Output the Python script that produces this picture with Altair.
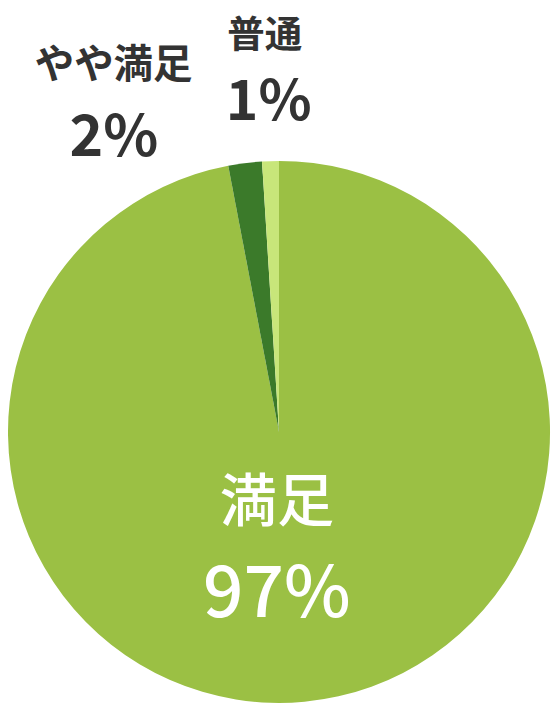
import math
import altair as alt
import pandas as pd

categories = ["満足", "やや満足", "普通"]
values = [97, 2, 1]
colors = ["#9BC044", "#3B7A2A", "#C8E67A"]

df = pd.DataFrame({"category": categories, "value": values, "rank": list(range(len(categories)))})
total = sum(values)

FONT = "Noto Sans CJK JP"
CX, CY, R = 275, 425, 275

base = alt.Chart(df).transform_window(
    end="sum(value)", sort=[alt.SortField("rank")], frame=[None, 0]
).transform_calculate(
    start="datum.end - datum.value",
    mid="datum.end - datum.value / 2",
    pct="datum.value + '%'",
)

theta_scale = alt.Scale(domain=[0, total], range=[0, 2 * math.pi])

pie = base.mark_arc(radius=R, strokeWidth=0).encode(
    x=alt.value(CX),
    y=alt.value(CY),
    theta=alt.Theta("start:Q", scale=theta_scale, stack=False),
    theta2="end:Q",
    color=alt.Color("category:N", scale=alt.Scale(domain=categories, range=colors), legend=None),
)


def label(cat, field, r, dx, size, color, weight):
    return base.transform_filter(alt.datum.category == cat).mark_text(
        radius=r, dx=dx, fontSize=size, font=FONT, fontWeight=weight,
        color=color, align="center", baseline="middle",
    ).encode(
        x=alt.value(CX),
        y=alt.value(CY),
        theta=alt.Theta("mid:Q", scale=theta_scale, stack=False),
        text=alt.Text(f"{field}:N"),
    )


layers = [
    pie,
    label("満足", "category", 74, -9, 58, "white", 500),
    label("満足", "pct", 167, -18, 72, "white", 500),
    label("やや満足", "category", 374, -121, 40, "#333333", "bold"),
    label("やや満足", "pct", 299, -130, 58, "#333333", "bold"),
    label("普通", "category", 401, -2, 38, "#333333", "bold"),
    label("普通", "pct", 334, 0, 56, "#333333", "bold"),
]

chart = alt.layer(*layers).properties(
    width=552, height=700, padding=0, autosize=alt.AutoSizeParams(type="none"),
    background="white",
).configure_view(stroke=None)

chart.save("out.html", embed_options={"renderer": "svg", "actions": False})
